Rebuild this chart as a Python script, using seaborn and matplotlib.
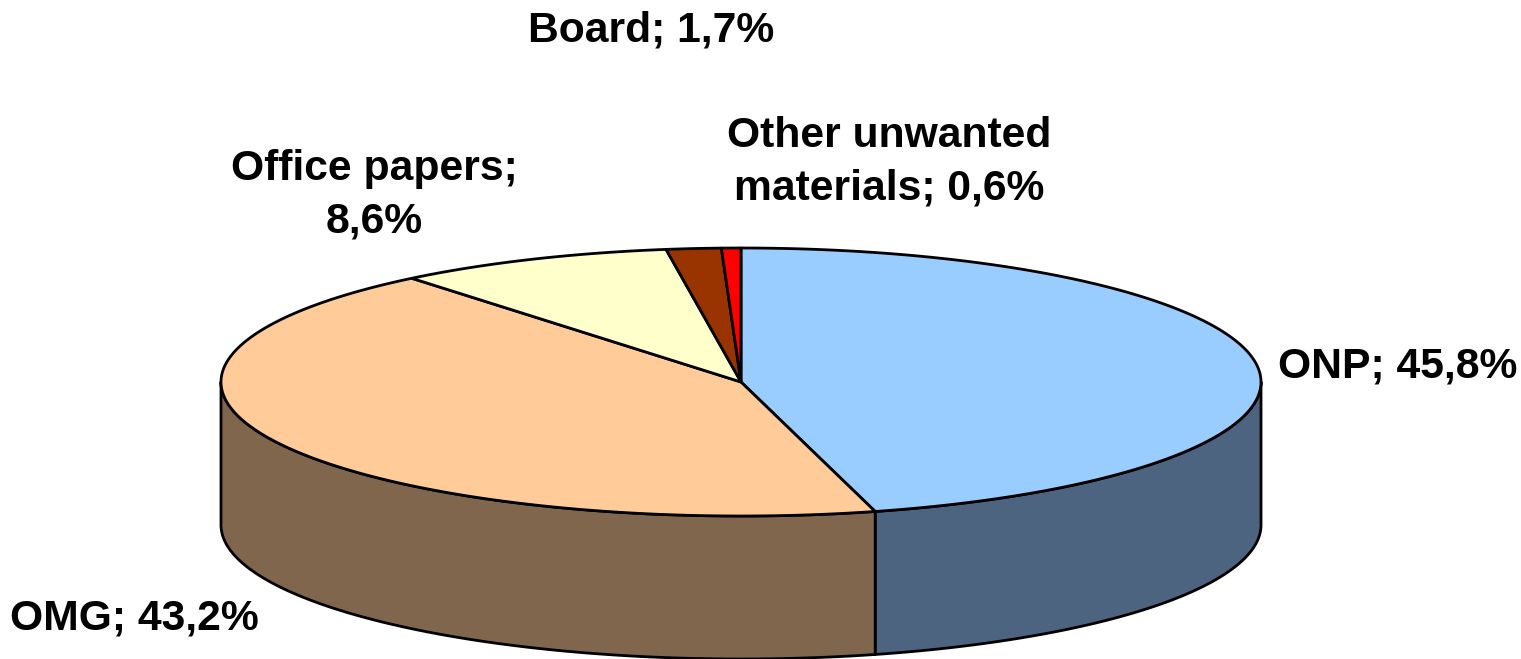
import numpy as np
import matplotlib.pyplot as plt
import seaborn as sns

OUT_FILE = "out.png"

categories = ["ONP", "OMG", "Office papers", "Board", "Other unwanted materials"]
shares = [45.8, 43.2, 8.6, 1.7, 0.6]
share_labels = ["ONP; 45,8%", "OMG; 43,2%", "Office papers;\n8,6%", "Board; 1,7%",
                "Other unwanted\nmaterials; 0,6%"]
top_colors = ["#99CCFF", "#FFCC99", "#FFFFCC", "#993300", "#FF0000"]
side_colors = ["#4D6480", "#80664D", "#80806A", "#4D1A00", "#800000"]

# pie geometry in pixels
CX, CY = 741, 382
RX, RY = 520, 134
DEPTH = 143
LABEL_POS = [(1398, 366), (134, 618), (374, 195), (651, 30), (889, 162)]


def rim(a0, a1, n=200):
    # angles run clockwise from the top of the ellipse
    t = np.radians(np.linspace(a0, a1, n))
    return CX + RX * np.sin(t), CY - RY * np.cos(t)


def draw_pie(ax):
    ends = np.cumsum(shares) / np.sum(shares) * 360
    starts = np.r_[0, ends[:-1]]

    # side wall first, only the front half (90..270 deg) can be seen
    for a0, a1, side in zip(starts, ends, side_colors):
        lo, hi = max(a0, 90), min(a1, 270)
        if lo >= hi:
            continue
        x, y = rim(lo, hi)
        xs = np.r_[x, x[::-1]]
        ys = np.r_[y, y[::-1] + DEPTH]
        ax.fill(xs, ys, facecolor=side, edgecolor="black", lw=2, joinstyle="round")

    for a0, a1, top in zip(starts, ends, top_colors):
        x, y = rim(a0, a1)
        ax.fill(np.r_[CX, x], np.r_[CY, y], facecolor=top, edgecolor="black", lw=2,
                joinstyle="round")


sns.set_theme(style="white")
plt.rcParams["font.family"] = ["Liberation Sans", "DejaVu Sans"]

fig = plt.figure(figsize=(15.21, 6.59), dpi=100)
ax = fig.add_axes([0, 0, 1, 1])
ax.set_xlim(0, 1521)
ax.set_ylim(659, 0)
ax.axis("off")

draw_pie(ax)

for label, (lx, ly) in zip(share_labels, LABEL_POS):
    ax.text(lx, ly, label, ha="center", va="center", fontsize=30.7, fontweight="bold",
            color="black", linespacing=1.4)

fig.savefig(OUT_FILE, dpi=100)
plt.close(fig)
